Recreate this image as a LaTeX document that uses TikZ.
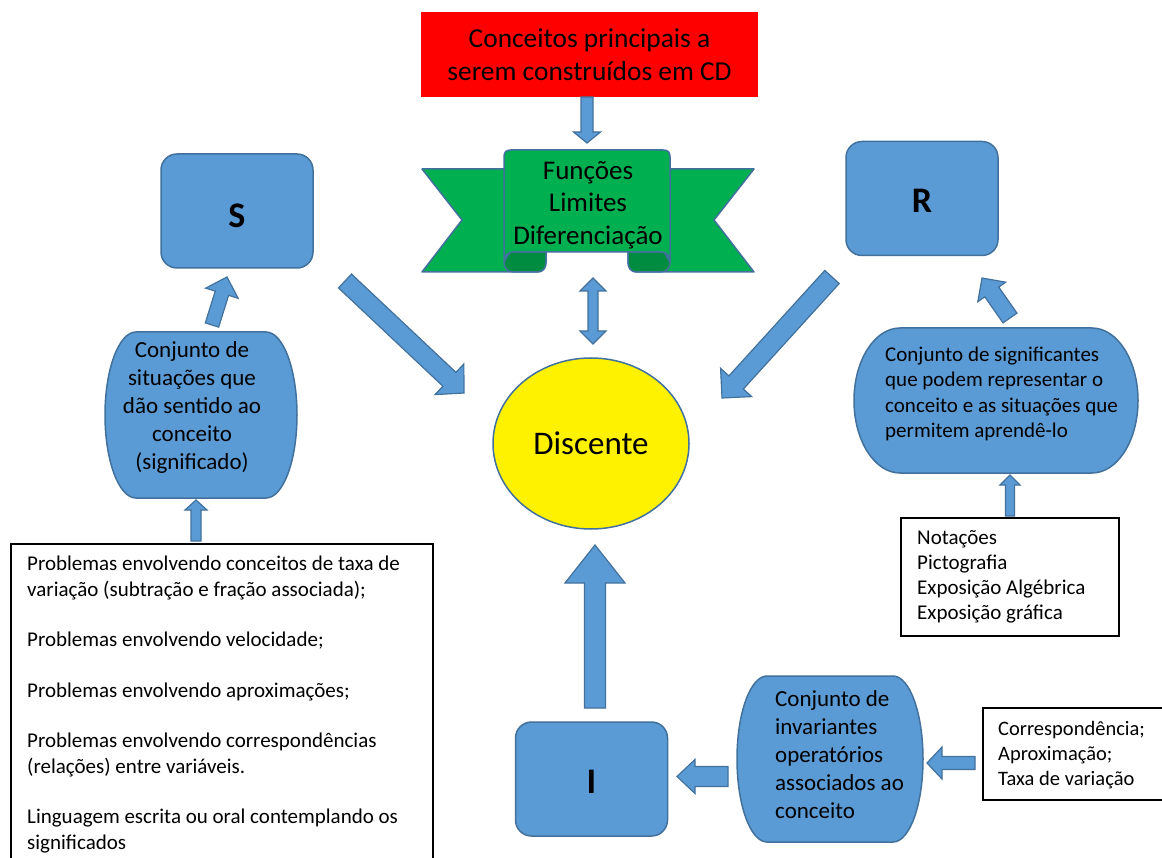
\documentclass[tikz,border=0pt]{standalone}
\usepackage{fontspec}
\setmainfont{Carlito}
\usetikzlibrary{calc,shapes.geometric}

\definecolor{boxblue}{HTML}{5B9BD5}
\definecolor{edgeblue}{HTML}{41719C}
\definecolor{bannergreen}{HTML}{00B050}
\definecolor{folddark}{HTML}{008C40}

\tikzset{
  blockarrow/.style={fill=boxblue, draw=edgeblue, line width=1.2pt, line join=miter},
  roundbox/.style={fill=boxblue, draw=edgeblue, line width=1.5pt, rounded corners=16pt,
    minimum width=152pt, minimum height=114pt, inner sep=0pt, text depth=0pt,
    font=\fontsize{36}{40}\selectfont\bfseries},
  procshape/.style={fill=boxblue, draw=edgeblue, line width=1.5pt},
  banner/.style={fill=bannergreen, draw=edgeblue, line width=1.5pt, line join=round},
  fold/.style={fill=folddark, draw=edgeblue, line width=1.5pt, line join=round},
  listbox/.style={draw=black, line width=1.8pt, fill=white, inner sep=0pt},
  proctext/.style={inner sep=0pt, font=\fontsize{23}{28}\selectfont},
  listtext/.style={inner sep=0pt, align=left, font=\fontsize{21}{25.3}\selectfont},
}

% single-headed block arrow: tail, tip, half shaft width, half head width, head length
\newcommand\blockarrow[5]{%
  \coordinate (ba-h) at ($(#2)!#5!(#1)$);
  \draw[blockarrow] ($(#1)!#3!90:(#2)$) -- ($(ba-h)!#3!-90:(#1)$) -- ($(ba-h)!#4!-90:(#1)$)
    -- (#2) -- ($(ba-h)!#4!90:(#1)$) -- ($(ba-h)!#3!90:(#1)$) -- ($(#1)!#3!-90:(#2)$) -- cycle;
}
% double-headed block arrow: end a, end b, half shaft width, half head width, head length
\newcommand\twowayarrow[5]{%
  \coordinate (tw-a) at ($(#1)!#5!(#2)$);
  \coordinate (tw-b) at ($(#2)!#5!(#1)$);
  \draw[blockarrow] (#1) -- ($(tw-a)!#4!90:(#2)$) -- ($(tw-a)!#3!90:(#2)$)
    -- ($(tw-b)!#3!-90:(#1)$) -- ($(tw-b)!#4!-90:(#1)$) -- (#2)
    -- ($(tw-b)!#4!90:(#1)$) -- ($(tw-b)!#3!90:(#1)$)
    -- ($(tw-a)!#3!-90:(#2)$) -- ($(tw-a)!#4!-90:(#2)$) -- cycle;
}

\begin{document}
\begin{tikzpicture}[x=1pt,y=-1pt]
\useasboundingbox (0,0) rectangle (1162,858);
\clip (0,0) rectangle (1162,858);
\fill[white] (0,0) rectangle (1162,858);

% ---- title box ----
\node[fill=red, minimum width=337pt, minimum height=85pt, inner sep=0pt, align=center,
  font=\fontsize{27.4}{33.5}\selectfont] (goal) at (589.5,54.5)
  {Conceitos principais a\\serem construídos em CD};

% ---- banner with the three concepts ----
\draw[banner] (422,169) -- (546,169) -- (546,262) .. controls (546,268) and (543,272) .. (537,272)
  -- (422,272) -- (462,220) -- cycle;
\draw[banner] (754,169) -- (628,169) -- (628,262) .. controls (628,268) and (631,272) .. (637,272)
  -- (754,272) -- (714,220) -- cycle;
\draw[fold] (510,252) -- (546,252) -- (546,262) .. controls (546,268) and (543,272) .. (537,272)
  -- (514,272) .. controls (507,272) and (504,268) .. (504,262) -- cycle;
\draw[fold] (664,252) -- (628,252) -- (628,262) .. controls (628,268) and (631,272) .. (637,272)
  -- (660,272) .. controls (667,272) and (670,268) .. (670,262) -- cycle;
\draw[banner] (504,262) -- (504,157) .. controls (504,152) and (506,150) .. (511,150)
  -- (663,150) .. controls (668,150) and (670,152) .. (670,157) -- (670,262)
  .. controls (670,256) and (667,252) .. (661,252) -- (513,252)
  .. controls (507,252) and (504,256) .. (504,262) -- cycle;
\node[inner sep=0pt, align=center, font=\fontsize{27}{32.5}\selectfont] (topics) at (588,205)
  {Funções\\Limites\\Diferenciação};

% ---- learner ----
\node[ellipse, draw=edgeblue, fill=yellow, line width=1.5pt, minimum width=196pt,
  minimum height=171pt, inner sep=0pt, font=\fontsize{33}{40}\selectfont] (learner)
  at (591,443.5) {Discente};

% ---- S, R, I ----
\node[roundbox, text height=34pt] (S) at (237,211) {S};
\node[roundbox, text height=29pt] (R) at (922,198.5) {R};
\node[roundbox, text height=28pt] (I) at (591.5,779) {I};

% ---- situations ----
\draw[procshape] (136,332) -- (266,332) arc[start angle=90,end angle=-90,x radius=31pt,y radius=83pt]
  -- (136,498) arc[start angle=270,end angle=90,x radius=31pt,y radius=83pt] -- cycle;
\node[proctext, align=center] (situations) at (192,407)
  {Conjunto de\\situações que\\dão sentido ao\\conceito\\(significado)};

% ---- signifiers ----
\draw[procshape] (900,328) -- (1092,328) arc[start angle=90,end angle=-90,x radius=46pt,y radius=72.5pt]
  -- (900,473) arc[start angle=270,end angle=90,x radius=46pt,y radius=72.5pt] -- cycle;
\node[proctext, anchor=west, align=left, font=\fontsize{21}{25.3}\selectfont] (signifiers) at (885,394)
  {Conjunto de significantes\\que podem representar o\\conceito e as situações que\\permitem aprendê-lo};

% ---- invariants ----
\draw[procshape] (767,676) -- (893,676) arc[start angle=90,end angle=-90,x radius=30pt,y radius=83pt]
  -- (767,842) arc[start angle=270,end angle=90,x radius=30pt,y radius=83pt] -- cycle;
\node[proctext, anchor=west, align=left] (invariants) at (775,755)
  {Conjunto de\\invariantes\\operatórios\\associados ao\\conceito};

% ---- list boxes ----
\node[listbox, anchor=north west, minimum width=422pt, minimum height=340pt] (problemsbox) at (10,543) {};
\node[listtext, anchor=north west] (problems) at (27,556)
  {Problemas envolvendo conceitos de taxa de\\variação (subtração e fração associada);\\[25.3pt]
   Problemas envolvendo velocidade;\\[25.3pt]
   Problemas envolvendo aproximações;\\[25.3pt]
   Problemas envolvendo correspondências\\(relações) entre variáveis.\\[25.3pt]
   Linguagem escrita ou oral contemplando os\\significados};

\node[listbox, anchor=north west, minimum width=218pt, minimum height=118pt] (notationsbox) at (900,517) {};
\node[listtext, anchor=west, font=\fontsize{21}{25}\selectfont] (notations) at (917,577)
  {Notações\\Pictografia\\Exposição Algébrica\\Exposição gráfica};

\node[listbox, anchor=north west, minimum width=200pt, minimum height=92pt] (traitsbox) at (982,707) {};
\node[listtext, anchor=west, font=\fontsize{20.5}{25}\selectfont] (traits) at (998,755)
  {Correspondência;\\Aproximação;\\Taxa de variação};

% ---- connector end points ----
\coordinate (goal-out) at (587,97);      \coordinate (topics-in) at (587,143);
\coordinate (topics-io) at (593,278);    \coordinate (learner-io) at (593,344);
\coordinate (S-out) at (345,281);        \coordinate (learner-nw) at (464,393);
\coordinate (R-out) at (832,277);        \coordinate (learner-ne) at (722,398);
\coordinate (situations-out) at (212,325); \coordinate (S-in) at (227,277);
\coordinate (problems-out) at (196,541); \coordinate (situations-in) at (196,500);
\coordinate (signifiers-out) at (1010,318); \coordinate (R-in) at (982,278);
\coordinate (notations-out) at (1010,516); \coordinate (signifiers-in) at (1010,475);
\coordinate (I-out) at (595,708);        \coordinate (learner-s) at (595,545);
\coordinate (invariants-out) at (728,776.5); \coordinate (I-in) at (677,776.5);
\coordinate (traits-out) at (975,763);   \coordinate (invariants-in) at (927,763);

% ---- connectors ----
\blockarrow{goal-out}{topics-in}{6pt}{13.5pt}{11pt}
\twowayarrow{topics-io}{learner-io}{5pt}{13pt}{13pt}
\blockarrow{S-out}{learner-nw}{9.5pt}{21pt}{20pt}
\blockarrow{R-out}{learner-ne}{9.75pt}{21pt}{21pt}
\blockarrow{situations-out}{S-in}{7pt}{17pt}{17pt}
\blockarrow{problems-out}{situations-in}{5pt}{11pt}{10pt}
\blockarrow{signifiers-out}{R-in}{8.5pt}{17pt}{17pt}
\blockarrow{notations-out}{signifiers-in}{4.5pt}{10pt}{10pt}
\blockarrow{I-out}{learner-s}{10.5pt}{30pt}{38pt}
\blockarrow{invariants-out}{I-in}{10pt}{17pt}{18pt}
\blockarrow{traits-out}{invariants-in}{6.5pt}{16pt}{15pt}
\end{tikzpicture}
\end{document}
